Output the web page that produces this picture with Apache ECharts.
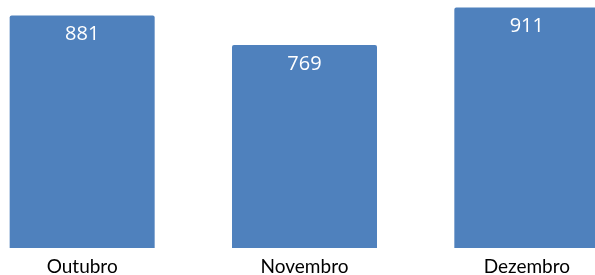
<!DOCTYPE html>
<html>
<head>
<meta charset="utf-8">
<script src="https://cdn.jsdelivr.net/npm/echarts@6/dist/echarts.min.js"></script>
<style>
  html, body { margin: 0; padding: 0; background: #fff; }
  #chart { width: 595px; height: 275px; }
</style>
</head>
<body>
<div id="chart"></div>
<script>
  // meses e totais
  const months = ['Outubro', 'Novembro', 'Dezembro']
  const totals = [881, 769, 911]

  let elem = echarts.init(document.getElementById('chart'))
  let option = {
    animation: false,
    grid: {
      left: -29,
      width: 667,
      top: -16,
      bottom: 27,
      containLabel: false,
      outerBoundsMode: 'none'
    },
    xAxis: {
      type: 'category',
      data: months,
      axisLine: { show: false },
      axisTick: { show: false },
      axisLabel: {
        color: '#000',
        fontFamily: 'Lato',
        fontSize: 19,
        margin: 9
      }
    },
    yAxis: {
      type: 'value',
      min: 0,
      max: 1000,
      show: false
    },
    series: [
      {
        type: 'bar',
        data: totals,
        barWidth: 145,
        itemStyle: {
          color: '#4F81BD',
          borderRadius: [2, 2, 0, 0]
        },
        label: {
          show: true,
          position: 'insideTop',
          distance: 9,
          color: '#fff',
          fontFamily: 'Open Sans',
          fontSize: 20
        }
      }
    ]
  }
  elem.setOption(option)
</script>
</body>
</html>
